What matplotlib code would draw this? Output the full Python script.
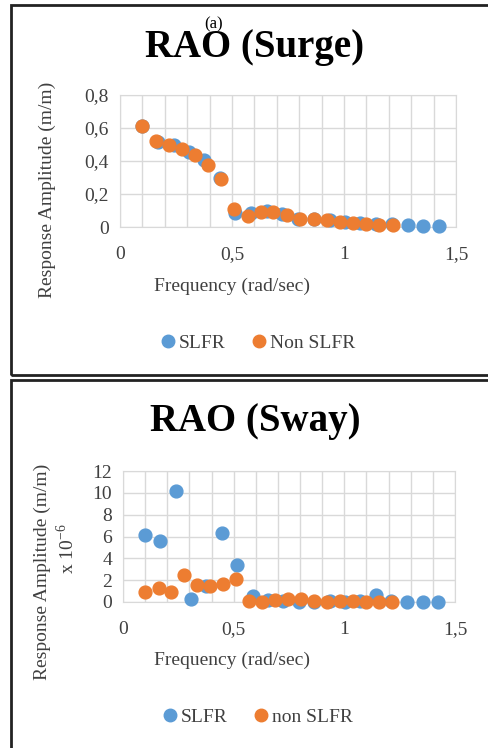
import matplotlib
matplotlib.use('Agg')
import matplotlib.pyplot as plt
from matplotlib.patches import Rectangle
from matplotlib.lines import Line2D
from matplotlib.ticker import MultipleLocator, FuncFormatter

plt.rcParams['font.family'] = ['Liberation Serif', 'DejaVu Serif']
plt.rcParams['mathtext.fontset'] = 'stix'

# frequencies (rad/sec)
freq_slfr = [0.098, 0.168, 0.239, 0.307, 0.376, 0.447, 0.515, 0.587, 0.657, 0.725,
             0.796, 0.865, 0.936, 1.003, 1.071, 1.142, 1.213, 1.285, 1.354, 1.425]
freq_non = [0.100, 0.162, 0.217, 0.276, 0.336, 0.391, 0.451, 0.510, 0.570, 0.628,
            0.685, 0.745, 0.802, 0.864, 0.922, 0.981, 1.041, 1.097, 1.156, 1.217]

# surge RAO (m/m)
surge_slfr = [0.610, 0.516, 0.496, 0.456, 0.405, 0.294, 0.087, 0.085, 0.097, 0.081,
              0.051, 0.049, 0.040, 0.030, 0.024, 0.020, 0.016, 0.010, 0.008, 0.008]
surge_non = [0.612, 0.520, 0.500, 0.472, 0.435, 0.375, 0.288, 0.111, 0.067, 0.091,
             0.091, 0.071, 0.051, 0.047, 0.045, 0.030, 0.024, 0.020, 0.014, 0.010]

# sway RAO (m/m x 1e-6)
sway_slfr = [6.17, 5.59, 10.14, 0.24, 1.50, 6.32, 3.36, 0.52, 0.20, 0.10,
             0.00, 0.00, 0.10, 0.00, 0.10, 0.67, 0.05, 0.00, 0.00, 0.00]
sway_non = [0.92, 1.28, 0.92, 2.44, 1.53, 1.44, 1.62, 2.14, 0.09, 0.00,
            0.15, 0.24, 0.24, 0.09, 0.00, 0.09, 0.09, 0.00, 0.00, 0.00]

BLUE = '#5B9BD5'
ORANGE = '#ED7D31'
W, H = 489, 748


def comma(v, pos):
    if abs(v) < 1e-9:
        return '0'
    s = ('%.1f' % v).rstrip('0').rstrip('.')
    return s.replace('.', ',')


def style_axes(ax, ymax, ystep):
    ax.set_xlim(0, 1.5)
    ax.set_ylim(0, ymax)
    ax.xaxis.set_major_locator(MultipleLocator(0.5))
    ax.xaxis.set_minor_locator(MultipleLocator(0.1))
    ax.yaxis.set_major_locator(MultipleLocator(ystep))
    ax.xaxis.set_major_formatter(FuncFormatter(comma))
    ax.yaxis.set_major_formatter(FuncFormatter(comma))
    ax.grid(True, which='both', axis='x', color='#d9d9d9', lw=1)
    ax.grid(True, which='major', axis='y', color='#d9d9d9', lw=1)
    ax.set_axisbelow(True)
    for sp in ax.spines.values():
        sp.set_color('#d9d9d9')
    ax.tick_params(which='both', length=0, labelsize=14, colors='#404040')
    ax.tick_params(axis='x', pad=14)
    ax.tick_params(axis='y', pad=8)


fig = plt.figure(figsize=(W / 100, H / 100), dpi=100)

# panel frames
fig.patches.append(Rectangle((11 / W, 1 - 375 / H), 1.0, 370 / H, transform=fig.transFigure,
                             fill=False, ec='#222222', lw=2))
fig.patches.append(Rectangle((11 / W, -0.05), 1.0, 1 - 380 / H + 0.05, transform=fig.transFigure,
                             fill=False, ec='#222222', lw=2))

# surge
ax1 = fig.add_axes([120 / W, 1 - 227 / H, 336 / W, 132 / H])
ax1.scatter(freq_slfr, surge_slfr, s=85, color=BLUE, zorder=3, clip_on=False)
ax1.scatter(freq_non, surge_non, s=85, color=ORANGE, zorder=4, clip_on=False)
style_axes(ax1, 0.8, 0.2)
fig.text(255 / W, 1 - 48 / H, 'RAO (Surge)', ha='center', va='center', fontsize=28, fontweight='bold')
fig.text(214 / W, 1 - 24 / H, '(a)', ha='center', va='center', fontsize=12)
fig.text(232 / W, 1 - 286 / H, 'Frequency (rad/sec)', ha='center', va='center', fontsize=14, color='#404040')
fig.text(47 / W, 1 - 190 / H, 'Response Amplitude (m/m)', ha='center', va='center', rotation=90,
         fontsize=14, color='#404040')

# sway
ax2 = fig.add_axes([123 / W, 1 - 602 / H, 332 / W, 131 / H])
ax2.scatter(freq_slfr, sway_slfr, s=85, color=BLUE, zorder=3, clip_on=False)
ax2.scatter(freq_non, sway_non, s=85, color=ORANGE, zorder=4, clip_on=False)
style_axes(ax2, 12, 2)
fig.text(255 / W, 1 - 422 / H, 'RAO (Sway)', ha='center', va='center', fontsize=28, fontweight='bold')
fig.text(232 / W, 1 - 660 / H, 'Frequency (rad/sec)', ha='center', va='center', fontsize=14, color='#404040')
fig.text(42 / W, 1 - 572 / H, 'Response Amplitude (m/m)', ha='center', va='center', rotation=90,
         fontsize=14, color='#404040')
fig.text(67 / W, 1 - 549 / H, r'x 10$^{\mathregular{-6}}$', ha='center', va='center', rotation=90,
         fontsize=14, color='#404040')

# legends
handles = [Line2D([], [], marker='o', ls='', color=BLUE, markersize=9),
           Line2D([], [], marker='o', ls='', color=ORANGE, markersize=9)]
leg_kw = dict(loc='center', frameon=False, ncol=2, fontsize=14, handlelength=0.7,
              handletextpad=0.2, columnspacing=1.4, labelcolor='#404040')
fig.legend(handles, ['SLFR', 'Non SLFR'], bbox_to_anchor=(258 / W, 1 - 343 / H), **leg_kw)
fig.legend(handles, ['SLFR', 'non SLFR'], bbox_to_anchor=(258 / W, 1 - 717 / H), **leg_kw)

plt.savefig('out.png', dpi=100)
plt.close()
